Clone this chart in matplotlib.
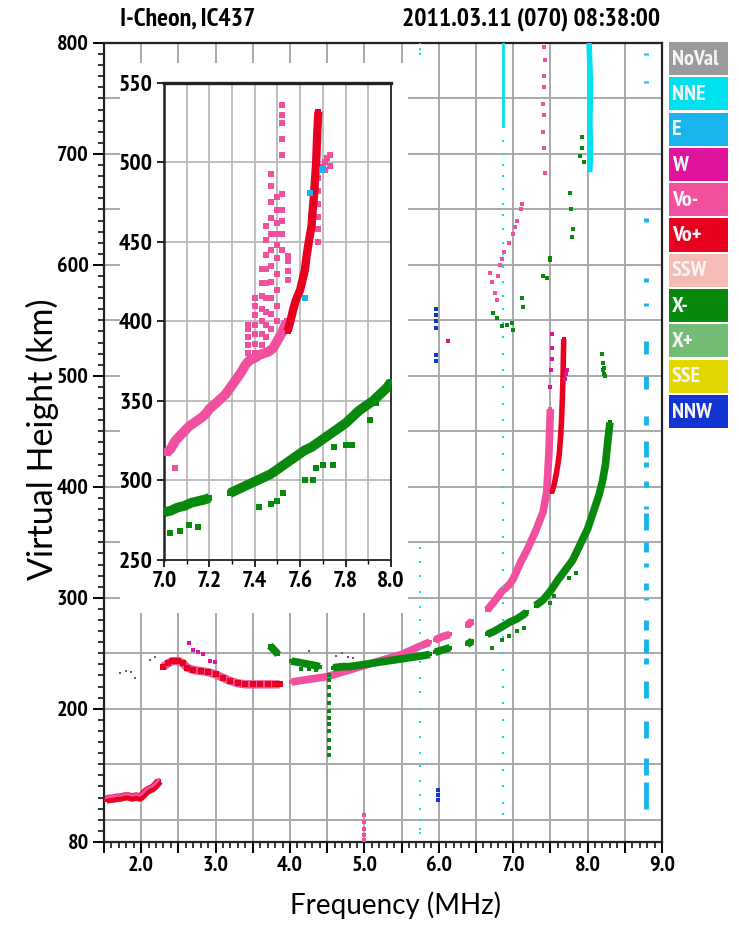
import matplotlib.pyplot as plt
from matplotlib.patches import Rectangle

narrow = ['Liberation Sans Narrow', 'Arial Narrow', 'PT Sans Narrow', 'Fira Sans Condensed',
          'IBM Plex Sans Condensed', 'Archivo Narrow', 'Liberation Sans']
plt.rcParams['font.family'] = narrow

# legend categories and colours
legend_names = ['NoVal', 'NNE', 'E', 'W', 'Vo-', 'Vo+', 'SSW', 'X-', 'X+', 'SSE', 'NNW']
legend_colors = ['#9b9b9b', '#00e1f0', '#19b4ee', '#e0149c', '#f0509e', '#e8001f',
                 '#f4bcb4', '#08880c', '#74bc74', '#e2d800', '#1234d2']
col = dict(zip(legend_names, legend_colors))

# ---- main ionogram traces (frequency MHz, virtual height km) ----
# low O segment
low_f = [1.53, 1.58, 1.63, 1.68, 1.73, 1.78, 1.83, 1.88, 1.93, 1.98, 2.02, 2.06, 2.10, 2.14, 2.18, 2.22, 2.24]
low_h = [118, 119, 119, 120, 120, 121, 121, 120, 121, 120, 122, 125, 127, 128, 130, 133, 135]

# O trace, pieces
o1_f = [2.30, 2.36, 2.42, 2.50, 2.56, 2.62, 2.70, 2.80, 2.90, 3.00, 3.10, 3.20, 3.30, 3.40, 3.50, 3.60, 3.70, 3.80, 3.86]
o1_h = [238, 241, 243, 243, 241, 237, 235, 234, 233, 231, 228, 225, 223, 222, 222, 222, 222, 222, 222]
o2_f = [4.02, 4.10, 4.20, 4.30, 4.40, 4.50, 4.60, 4.70, 4.80, 4.90, 5.00, 5.10, 5.20, 5.30, 5.40, 5.50, 5.60, 5.70, 5.80, 5.88]
o2_h = [224, 225, 226, 227, 228, 229, 231, 233, 235, 237, 239, 241, 243, 245, 247, 249, 252, 255, 258, 260]
o3_f = [5.95, 6.05, 6.15]
o3_h = [262, 265, 267]
o4_f = [6.38, 6.45]
o4_h = [275, 279]
o5_f = [6.65, 6.75, 6.85, 6.95, 7.00, 7.10, 7.20, 7.30, 7.40, 7.45, 7.48, 7.50]
o5_h = [289, 297, 306, 312, 317, 332, 345, 360, 377, 395, 430, 470]
vop_f = [7.52, 7.55, 7.58, 7.60, 7.62, 7.64, 7.65, 7.66, 7.67, 7.675, 7.68]
vop_h = [395, 402, 412, 420, 430, 448, 460, 478, 500, 520, 533]

o_extra_f = [2.64, 2.70, 2.76, 2.83, 2.93, 2.99, 7.50, 7.51, 7.52, 7.52, 7.52, 7.69, 7.71, 7.72, 6.12]
o_extra_h = [259, 253, 251, 249, 243, 242, 490, 505, 515, 525, 538, 497, 502, 505, 531]

dots_f = [1.72, 1.80, 1.86, 1.92, 2.12, 2.18, 4.25, 4.62, 4.70, 4.78, 4.85]
dots_h = [232, 234, 233, 228, 244, 247, 252, 248, 250, 247, 246]

# X trace, pieces
x1_f = [3.73, 3.80, 3.84]
x1_h = [257, 252, 249]
x2_f = [4.02, 4.10, 4.18, 4.26, 4.34, 4.40]
x2_h = [243, 242, 241, 240, 239, 238]
x3_f = [4.58, 4.70, 4.80, 4.90, 5.00, 5.10, 5.20, 5.30, 5.40, 5.50, 5.60, 5.70, 5.80, 5.88]
x3_h = [237, 238, 238, 239, 240, 241, 242, 243, 244, 245, 246, 247, 248, 249]
x4_f = [5.95, 6.05, 6.15]
x4_h = [251, 253, 255]
x5_f = [6.38, 6.45]
x5_h = [258, 261]
x6_f = [6.65, 6.75, 6.85, 6.95, 7.05, 7.12, 7.18]
x6_h = [267, 270, 274, 278, 281, 284, 287]
x7_f = [7.30, 7.40, 7.50, 7.60, 7.70, 7.80, 7.90, 8.00, 8.08, 8.15, 8.20, 8.24, 8.27, 8.30]
x7_h = [293, 298, 306, 316, 325, 334, 348, 362, 378, 392, 405, 420, 440, 458]

xs_f = [4.15, 4.25, 4.35, 4.52, 4.52, 4.52, 4.52, 4.53, 4.52, 4.53, 4.52, 4.52, 4.53, 4.52, 4.52,
        8.20, 8.21, 8.21, 8.22, 8.23, 8.22,
        6.73, 6.78, 6.85, 6.92, 6.98, 7.00, 7.12, 7.13, 7.40, 7.45, 7.49, 7.50,
        7.76, 7.78, 7.80, 7.79, 7.92, 7.93, 7.90, 7.95,
        6.72, 6.85, 6.95, 7.05, 7.15, 7.50, 7.55, 7.75, 7.85]
xs_h = [236, 236, 235, 230, 226, 220, 212, 205, 198, 192, 186, 180, 172, 165, 158,
        520, 512, 505, 502, 500, 507,
        557, 552, 545, 546, 548, 541, 570, 562, 590, 588, 606, 604,
        665, 650, 632, 625, 715, 705, 698, 693,
        255, 262, 266, 270, 273, 295, 302, 318, 322]

# scattered upper O echoes
w_f = [6.69, 6.72, 6.75, 6.78, 6.80, 6.82, 6.85, 6.88, 6.95, 7.00, 7.03, 7.05, 7.10, 7.12,
       7.42, 7.43, 7.42, 7.41, 7.40, 7.41, 7.40, 7.42, 7.43, 5.00, 5.00, 5.00, 5.00, 5.00]
w_h = [593, 585, 575, 568, 590, 600, 605, 612, 620, 628, 634, 640, 650, 655,
       796, 785, 770, 760, 745, 735, 720, 705, 683, 104, 98, 92, 86, 82]

# NNE streaks
nne1_f = 5.75
nne1_h = [800, 795, 790, 345, 332, 320, 305, 292, 280, 268, 255, 242, 228, 215, 200, 188,
          175, 160, 148, 135, 122, 110, 100, 92, 88]
nne2_f = 6.86
nne2_h = [712, 700, 690, 680, 668, 655, 645, 632, 620, 610, 598, 585, 572, 560, 548, 535,
          520, 505, 490, 475, 460, 445, 430, 415, 400, 385, 370, 355, 340, 325, 310, 295,
          280, 265, 250, 235, 220, 205, 190, 175, 160, 145, 130, 115, 105]
nne2_top = [725, 800]
nne3_f = [8.02, 8.04, 8.03, 8.04, 8.03]
nne3_h = [800, 760, 730, 700, 686]

# E dashes at 8.78 MHz
e_f = 8.78
e_top = [791, 766, 642, 588, 566, 531, 500, 464, 441, 422, 405, 383, 376, 350, 331, 313,
         300, 280, 263, 246, 225, 189, 156, 134]
e_bot = [789, 764, 639, 585, 563, 520, 488, 456, 427, 418, 400, 380, 361, 341, 328, 307,
         298, 271, 250, 240, 210, 174, 140, 110]

nnw_f = [5.96, 5.96, 5.96, 5.96, 5.96, 5.96, 5.99, 5.99, 5.99]
nnw_h = [560, 555, 549, 543, 519, 513, 127, 122, 118]

# ---- inset (7-8 MHz zoom) ----
in_o_f = [7.01, 7.03, 7.05, 7.07, 7.09, 7.11, 7.13, 7.15, 7.17, 7.19, 7.20,
          7.24, 7.27, 7.30, 7.32, 7.34, 7.36, 7.38, 7.40, 7.42, 7.44, 7.46, 7.48, 7.50, 7.52, 7.54]
in_o_h = [317, 320, 325, 328, 331, 334, 336, 338, 340, 343, 345,
          350, 354, 360, 364, 368, 373, 376, 377, 379, 380, 381, 383, 388, 393, 400]
in_col_f = [7.37, 7.37, 7.37, 7.37, 7.37,
            7.40, 7.40, 7.40, 7.40, 7.40, 7.40, 7.40,
            7.43, 7.43, 7.43, 7.43, 7.43, 7.43, 7.43,
            7.45, 7.45, 7.45, 7.45, 7.45, 7.45, 7.45, 7.45, 7.45,
            7.47, 7.47, 7.47, 7.47, 7.47, 7.47, 7.47, 7.47, 7.47, 7.47, 7.47,
            7.50, 7.50, 7.50, 7.50, 7.50, 7.50, 7.50, 7.50, 7.50, 7.50,
            7.52, 7.52, 7.52, 7.52, 7.52, 7.52, 7.52, 7.52, 7.52, 7.52,
            7.545, 7.545, 7.545, 7.545,
            7.68, 7.68, 7.68, 7.68, 7.68, 7.68, 7.68,
            7.70, 7.71, 7.72, 7.73, 7.71, 7.73, 7.05]
in_col_h = [380, 385, 390, 395, 398,
            380, 386, 392, 398, 404, 410, 415,
            385, 392, 400, 408, 416, 424, 433,
            390, 398, 406, 415, 424, 433, 442, 451, 460,
            395, 405, 415, 425, 435, 445, 455, 465, 475, 485, 493,
            400, 410, 420, 430, 440, 448, 455, 462, 470, 478,
            445, 455, 463, 470, 480, 505, 515, 525, 530, 536,
            426, 432, 438, 441,
            450, 458, 466, 474, 482, 490, 497,
            497, 500, 503, 505, 495, 498, 308]
in_vop_f = [7.545, 7.56, 7.57, 7.58, 7.60, 7.61, 7.62, 7.63, 7.64, 7.65, 7.655, 7.66, 7.67, 7.675, 7.68]
in_vop_h = [394, 402, 408, 413, 420, 426, 432, 443, 452, 460, 470, 478, 499, 518, 532]
in_e_f = [7.643, 7.62, 7.694, 7.70]
in_e_h = [481, 415, 495, 496]
in_x1_f = [7.00, 7.03, 7.06, 7.09, 7.12, 7.15, 7.18, 7.20]
in_x1_h = [280, 281, 283, 284, 286, 287, 288, 289]
in_x2_f = [7.29, 7.32, 7.35, 7.38, 7.41, 7.44, 7.47, 7.50, 7.53, 7.56, 7.59, 7.62, 7.65,
           7.68, 7.71, 7.74, 7.77, 7.80, 7.83, 7.86, 7.89, 7.92, 7.95, 7.98, 8.00]
in_x2_h = [292, 294, 296, 298, 300, 302, 304, 307, 310, 313, 316, 319, 321,
           324, 327, 330, 333, 336, 340, 344, 347, 350, 354, 358, 362]
in_xs_f = [7.025, 7.07, 7.11, 7.15, 7.42, 7.47, 7.496, 7.525, 7.62, 7.657, 7.67, 7.70,
           7.745, 7.75, 7.80, 7.826, 7.907, 7.936]
in_xs_h = [267, 268, 272, 271, 283, 285, 287, 292, 300, 300, 308, 310,
           310, 321, 322, 322, 338, 349]

fig = plt.figure(figsize=(7.39, 9.40), dpi=100)
ax = fig.add_axes([0.1407, 0.1043, 0.7551, 0.85])
ax.set_xlim(1.5, 9.0)
ax.set_ylim(80, 800)

grid_x = [2.0, 2.5, 3.0, 3.5, 4.0, 4.5, 5.0, 5.5, 6.0, 6.5, 7.0, 7.5, 8.0, 8.5]
grid_y = [100, 150, 200, 250, 300, 350, 400, 450, 500, 550, 600, 650, 700, 750]
for g in grid_x:
    ax.axvline(g, color='#a9a9a9', lw=1.4, zorder=0)
for g in grid_y:
    ax.axhline(g, color='#a9a9a9', lw=1.4, zorder=0)

xt = [1.5, 2.0, 2.5, 3.0, 3.5, 4.0, 4.5, 5.0, 5.5, 6.0, 6.5, 7.0, 7.5, 8.0, 8.5, 9.0]
ax.set_xticks(xt, ['' if t % 1 else f'{t:.1f}' for t in xt])
ax.set_xticks([1.5 + 0.1 * i for i in range(76)], minor=True)
ax.set_yticks([80, 200, 300, 400, 500, 600, 700, 800])
ax.set_yticks(list(range(80, 801, 10)), minor=True)
ax.tick_params(which='major', length=8, width=1.4, labelsize=16, pad=3)
ax.tick_params(which='minor', length=4, width=1.1)
for lab in ax.get_xticklabels() + ax.get_yticklabels():
    lab.set_fontweight('bold')
ax.tick_params(axis='x', pad=2)
for s in ax.spines.values():
    s.set_linewidth(1.6)
    s.set_color('#222222')

ms = 3
def band(a, f, h, c, lw=4.5, m=ms, z=3):
    a.plot(f, h, color=c, lw=lw, marker='s', ms=m, mew=0, solid_capstyle='butt', zorder=z)

band(ax, low_f, low_h, col['Vo+'], lw=6)
band(ax, low_f, [v + 2 for v in low_h], col['Vo-'], lw=2, m=2)
band(ax, o1_f, o1_h, col['Vo-'], lw=6)
ax.scatter(o1_f, o1_h, s=14, marker='s', color=col['Vo+'], lw=0, zorder=4)
for f, h in [(o2_f, o2_h), (o3_f, o3_h), (o4_f, o4_h), (o5_f, o5_h)]:
    band(ax, f, h, col['Vo-'], lw=5.5)
band(ax, vop_f, vop_h, col['Vo+'], lw=4)
ax.scatter(o_extra_f, o_extra_h, s=10, marker='s', color=col['W'], lw=0, zorder=4)
ax.scatter(dots_f, dots_h, s=4, marker='s', color='#8a4a6a', lw=0, zorder=4)
for f, h in [(x1_f, x1_h), (x2_f, x2_h), (x3_f, x3_h), (x4_f, x4_h), (x5_f, x5_h), (x6_f, x6_h), (x7_f, x7_h)]:
    band(ax, f, h, col['X-'], lw=5.5)
ax.scatter(xs_f, xs_h, s=8, marker='s', color=col['X-'], lw=0, zorder=4)
ax.scatter(w_f, w_h, s=7, marker='s', color=col['Vo-'], lw=0, zorder=4)

ax.scatter([nne1_f] * len(nne1_h), nne1_h, s=4, marker='s', color=col['NNE'], lw=0, zorder=4)
ax.scatter([nne2_f] * len(nne2_h), nne2_h, s=4, marker='s', color=col['NNE'], lw=0, zorder=4)
ax.plot([nne2_f, nne2_f], nne2_top, color=col['NNE'], lw=2, zorder=4)
ax.plot(nne3_f, nne3_h, color=col['NNE'], lw=4, zorder=4)
ax.vlines([e_f] * len(e_top), e_bot, e_top, color=col['E'], lw=3.5, zorder=4)
ax.scatter(nnw_f, nnw_h, s=10, marker='s', color=col['NNW'], lw=0, zorder=4)

# white box behind the inset
ax.add_patch(Rectangle((0.1624, 0.3479), 0.3897, 0.5851, transform=fig.transFigure,
                       facecolor='white', edgecolor='none', zorder=10, clip_on=False))

lab_font = ['Lato', 'DejaVu Sans']
fig.text(395 / 739, 1 - 905 / 940, 'Frequency (MHz)', family=lab_font, fontsize=20,
         ha='center', va='center')
fig.text(42 / 739, 1 - 439 / 940, 'Virtual Height (km)', family=lab_font, fontsize=24.5,
         rotation=90, ha='center', va='center')

fig.text(120 / 739, 1 - 19 / 940, 'I-Cheon, IC437', fontsize=18.5, fontweight='bold',
         va='center', ha='left')
fig.text(660 / 739, 1 - 19 / 940, '2011.03.11 (070) 08:38:00', fontsize=18.5, fontweight='bold',
         va='center', ha='right')

# ---- inset ----
axin = fig.add_axes([0.2219, 0.4043, 0.3072, 0.5074])
axin.set_xlim(7.0, 8.0)
axin.set_ylim(250, 550)
for g in [7.1, 7.2, 7.3, 7.4, 7.5, 7.6, 7.7, 7.8, 7.9]:
    axin.axvline(g, color='#b4b4b4', lw=1.2, zorder=0)
for g in [300, 350, 400, 450, 500]:
    axin.axhline(g, color='#b4b4b4', lw=1.2, zorder=0)
axin.set_xticks([7.0, 7.2, 7.4, 7.6, 7.8, 8.0], ['7.0', '7.2', '7.4', '7.6', '7.8', '8.0'])
axin.set_xticks([7.1, 7.3, 7.5, 7.7, 7.9], minor=True)
axin.set_yticks([250, 300, 350, 400, 450, 500, 550])
axin.tick_params(which='major', length=5, width=1.2, labelsize=17, pad=3)
axin.tick_params(which='minor', length=3, width=1.0)
for lab in axin.get_xticklabels() + axin.get_yticklabels():
    lab.set_fontweight('bold')
for s in axin.spines.values():
    s.set_linewidth(1.3)
    s.set_color('#222222')
axin.spines['top'].set_linewidth(2.4)
axin.spines['left'].set_linewidth(1.8)

band(axin, in_o_f, in_o_h, col['Vo-'], lw=7, m=5)
axin.scatter(in_col_f, in_col_h, s=18, marker='s', color=col['Vo-'], lw=0, zorder=4)
band(axin, in_vop_f, in_vop_h, col['Vo+'], lw=6, m=5, z=5)
axin.scatter(in_e_f, in_e_h, s=14, marker='s', color=col['E'], lw=0, zorder=6)
band(axin, in_x1_f, in_x1_h, col['X-'], lw=7, m=5)
band(axin, in_x2_f, in_x2_h, col['X-'], lw=7, m=5)
axin.scatter(in_xs_f, in_xs_h, s=14, marker='s', color=col['X-'], lw=0, zorder=4)

# ---- colour key on the right ----
axl = fig.add_axes([669 / 739, 1 - 429 / 940, 59 / 739, 388 / 940])
axl.set_xlim(0, 1)
axl.set_ylim(len(legend_names), 0)
axl.axis('off')
for i, (name, c) in enumerate(zip(legend_names, legend_colors)):
    axl.add_patch(Rectangle((0, i + 0.03), 1, 0.94, facecolor=c, edgecolor='none'))
    axl.text(0.05, i + 0.52, name, color='#f6f6f6', fontsize=16, fontweight='bold',
             va='center', ha='left')

fig.savefig('out.png', dpi=100)
